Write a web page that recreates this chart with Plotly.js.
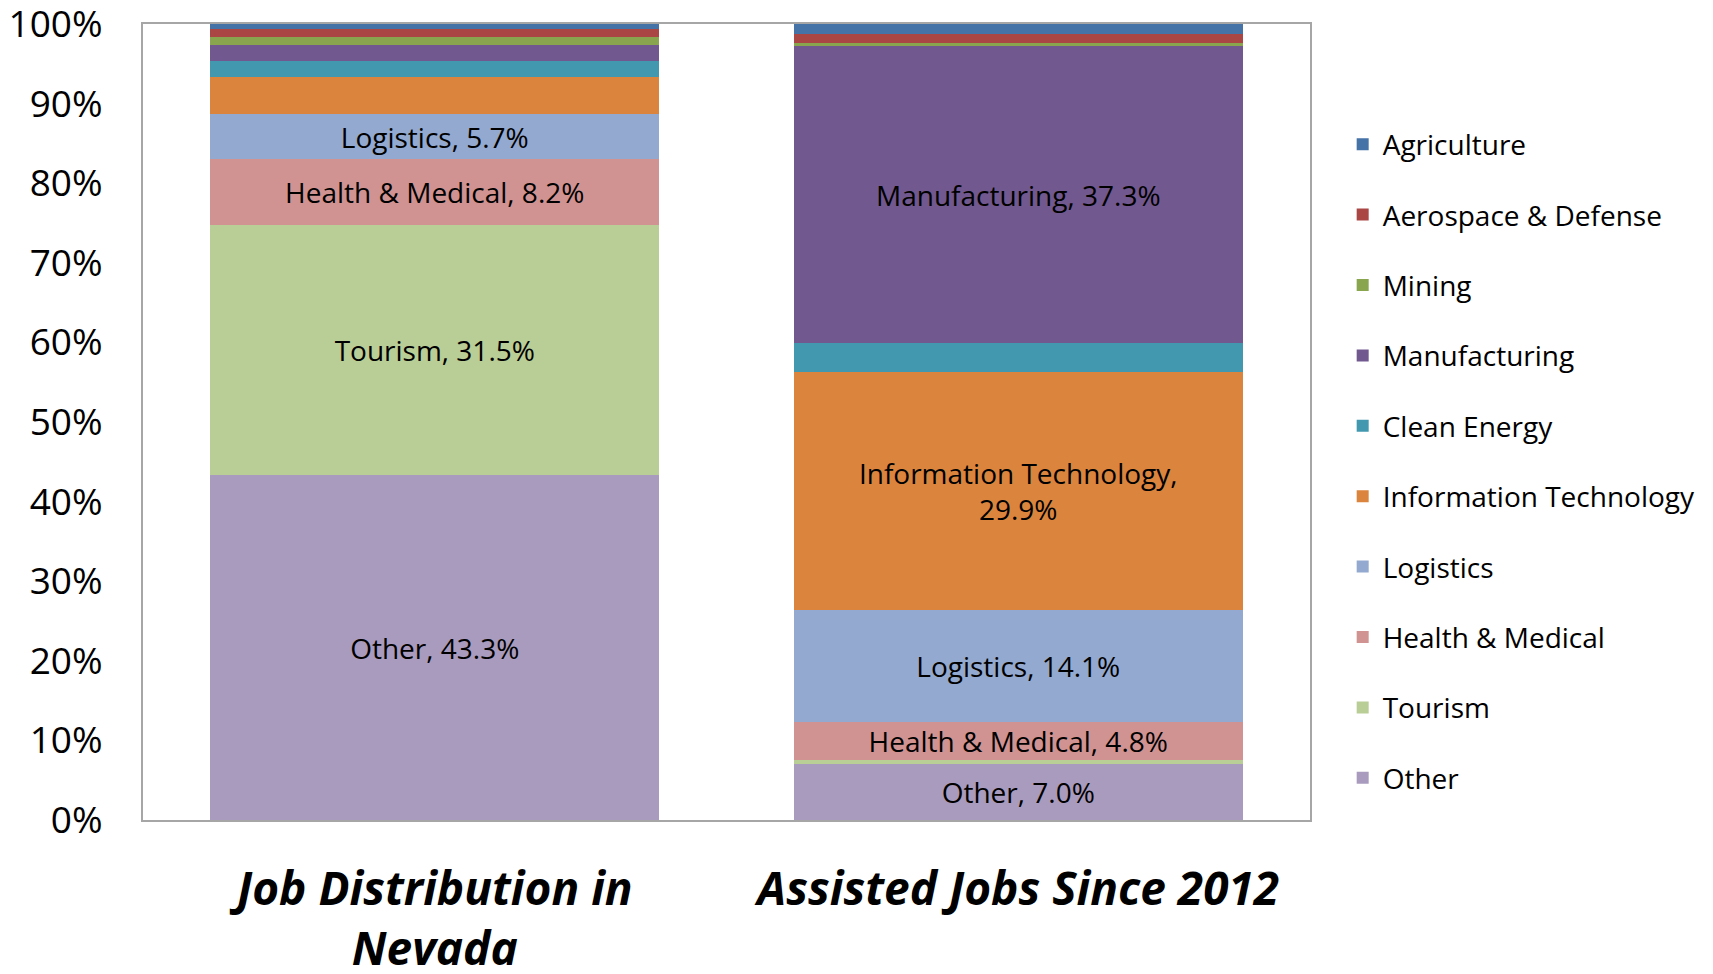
<!DOCTYPE html>
<html>
<head>
<meta charset="utf-8">
<script src="https://cdn.plot.ly/plotly-3.0.1.min.js"></script>
<style>html,body{margin:0;padding:0;background:#fff;}#chart{width:1713px;height:974px;}</style>
</head>
<body>
<div id="chart"></div>
<script>
// Categories (x axis)
const categories = ["Job Distribution in<br>Nevada", "Assisted Jobs Since 2012"];

// Series, bottom of stack first (percent of jobs)
const seriesNames = ["Other", "Tourism", "Health & Medical", "Logistics", "Information Technology",
                     "Clean Energy", "Manufacturing", "Mining", "Aerospace & Defense", "Agriculture"];
const other         = [43.3, 7.0];
const tourism       = [31.5, 0.5];
const health        = [8.2, 4.8];
const logistics     = [5.7, 14.1];
const infoTech      = [4.6, 29.9];
const cleanEnergy   = [2.0, 3.6];
const manufacturing = [2.0, 37.3];
const mining        = [1.1, 0.4];
const aerospace     = [1.0, 1.2];
const agriculture   = [0.6, 1.2];

// Which segments carry a data label
const showLabel = {
  "Other": [true, true],
  "Tourism": [true, false],
  "Health & Medical": [true, true],
  "Logistics": [true, true],
  "Information Technology": [false, true],
  "Manufacturing": [false, true]
};
const labelName = {"Information Technology": "Information Technology,<br>"};

const colors = ["#A99BBD", "#B9CD96", "#D19392", "#93A9CF", "#DB843D",
                "#4198AF", "#71588F", "#89A54E", "#AA4643", "#4572A7"];

const values = [other, tourism, health, logistics, infoTech, cleanEnergy, manufacturing, mining, aerospace, agriculture];

const FONT = "Open Sans, sans-serif";

const traces = seriesNames.map((name, i) => {
  const flags = showLabel[name] || [false, false];
  const prefix = labelName[name] || (name + ", ");
  return {
    type: "bar",
    name: name,
    legendgroup: name,
    legendrank: 1000 - i,
    x: categories,
    y: values[i],
    marker: {color: colors[i], line: {width: 0}},
    text: values[i].map((v, j) => flags[j] ? prefix + v.toFixed(1) + "%" : ""),
    textposition: "inside",
    insidetextanchor: "middle",
    textangle: 0,
    textfont: {family: FONT, size: 28, color: "#000"},
    hoverinfo: "name+y"
  };
});

const layout = {
  width: 1713,
  height: 974,
  barmode: "stack",
  bargap: 0.23,
  paper_bgcolor: "#fff",
  plot_bgcolor: "#fff",
  margin: {l: 143, r: 403, t: 24, b: 154},
  font: {family: FONT, color: "#000"},
  uniformtext: {mode: "show", minsize: 28},
  xaxis: {
    type: "category",
    showline: true, mirror: true, linecolor: "#A6A6A6", linewidth: 2,
    ticks: "", ticklabelstandoff: 28,
    tickfont: {family: FONT, size: 46, color: "#000"},
    showgrid: false, zeroline: false, fixedrange: true
  },
  yaxis: {
    range: [0, 100], dtick: 10, ticksuffix: "%",
    showline: true, mirror: true, linecolor: "#A6A6A6", linewidth: 2,
    ticks: "", ticklabelstandoff: 31, ticklabeloverflow: "allow",
    tickfont: {family: FONT, size: 37, color: "#000"},
    showgrid: false, zeroline: false, fixedrange: true
  },
  showlegend: true,
  legend: {
    traceorder: "grouped",
    tracegroupgap: 31,
    x: 1.028, xanchor: "left",
    y: 0.451, yanchor: "middle",
    font: {family: FONT, size: 28, color: "#000"},
    bgcolor: "rgba(0,0,0,0)"
  }
};

// Bold italic category labels
layout.xaxis.tickvals = categories;
layout.xaxis.ticktext = categories.map(c => "<b><i>" + c + "</i></b>");

Plotly.newPlot("chart", traces, layout, {displayModeBar: false, staticPlot: true});
</script>
</body>
</html>
